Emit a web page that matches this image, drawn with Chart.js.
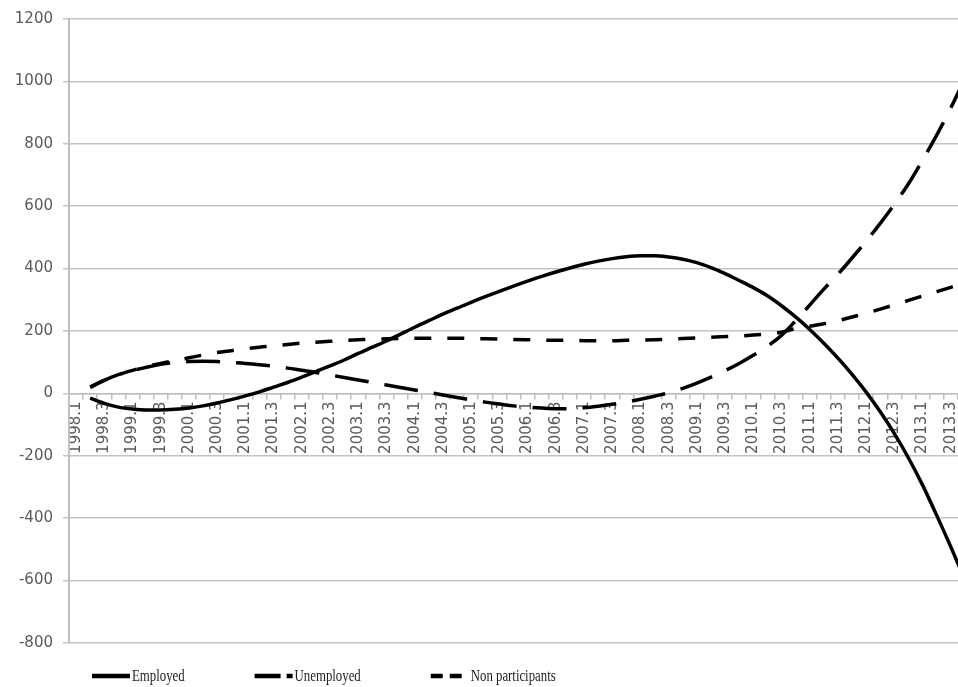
<!DOCTYPE html>
<html><head><meta charset="utf-8">
<script src="https://cdn.jsdelivr.net/npm/chart.js@4/dist/chart.umd.min.js"></script>
<style>
html,body{margin:0;padding:0;background:#fff;overflow:hidden;width:958px;height:687px}
#wrap{position:relative;width:986px;height:687px}
canvas{display:block}
</style></head><body>
<div id="wrap"><canvas id="c" width="986" height="687"></canvas></div>
<script>
const categories = [
 "1998.1","1998.2","1998.3","1998.4","1999.1","1999.2","1999.3","1999.4",
 "2000.1","2000.2","2000.3","2000.4","2001.1","2001.2","2001.3","2001.4",
 "2002.1","2002.2","2002.3","2002.4","2003.1","2003.2","2003.3","2003.4",
 "2004.1","2004.2","2004.3","2004.4","2005.1","2005.2","2005.3","2005.4",
 "2006.1","2006.2","2006.3","2006.4","2007.1","2007.2","2007.3","2007.4",
 "2008.1","2008.2","2008.3","2008.4","2009.1","2009.2","2009.3","2009.4",
 "2010.1","2010.2","2010.3","2010.4","2011.1","2011.2","2011.3","2011.4",
 "2012.1","2012.2","2012.3","2012.4","2013.1","2013.2","2013.3","2013.4"];

const employed = [null,
 -15,-32,-44,-50,-53,-53,-51,-47,-40,-31,-20,-8,5,20,35,52,70,88,107,128,148,168,190,212,233,254,273,292,310,327,344,
 360,375,389,402,414,424,432,438,441,441,437,430,419,403,384,362,339,313,281,245,205,161,113,61,4,-59,-129,-207,-294,-391,-492,-598];

const unemployed = [null,
 20,42,60,73,84,93,99,102,103,102,99,96,92,87,81,74,67,59,51,43,35,27,19,11,3,-5,-13,-21,-28,-34,-40,
 -44,-47,-49,-49,-46,-41,-35,-28,-19,-9,2,16,33,52,73,96,122,151,186,233,283,334,382,434,488,545,606,672,748,828,915,1010];

const nonParticipants = [null,
 20,42,60,74,86,96,105,114,123,131,137,143,148,152,157,161,164,167,170,172,174,175,176,177,177,177,177,176,175,174,173,
 172,171,170,170,169,169,169,170,171,172,174,176,178,180,182,184,187,191,196,208,215,223,233,245,257,270,284,298,312,326,340,354];

const seriesNames = ["Employed", "Unemployed", "Non participants"];
const yMin = -800, yMax = 1200, yStep = 200;

const legendPlugin = {
  id: 'customLegend',
  afterDraw(chart) {
    const ctx = chart.ctx;
    const y = 676;
    let x = 92;
    ctx.save();
    ctx.font = '16px "Liberation Serif", "Times New Roman", serif';
    ctx.textBaseline = 'middle';
    ctx.fillStyle = '#1e1e1e';
    chart.data.datasets.forEach(ds => {
      ctx.save();
      ctx.strokeStyle = '#000';
      ctx.lineWidth = 4.5;
      ctx.lineCap = 'butt';
      ctx.setLineDash(ds.legendDash);
      ctx.beginPath(); ctx.moveTo(x, y); ctx.lineTo(x + 38, y); ctx.stroke();
      ctx.restore();
      const tx = x + 40;
      ctx.save(); ctx.translate(tx, y + 1); ctx.scale(0.8, 1); ctx.fillText(ds.label, 0, 0); ctx.restore();
      const w = ctx.measureText(ds.label).width * 0.8;
      x = tx + w + 70;
    });
    ctx.restore();
  }
};

new Chart(document.getElementById('c'), {
  type: 'line',
  data: {
    labels: categories,
    datasets: [
      { label: seriesNames[0], data: employed, borderColor: '#000', borderWidth: 3.5, borderDash: [], legendDash: [], pointRadius: 0, cubicInterpolationMode: 'monotone', fill: false },
      { label: seriesNames[1], data: unemployed, borderColor: '#000', borderWidth: 3.5, borderDash: [34, 16], legendDash: [26, 6, 6, 6], pointRadius: 0, cubicInterpolationMode: 'monotone', fill: false },
      { label: seriesNames[2], data: nonParticipants, borderColor: '#000', borderWidth: 3.5, borderDash: [17, 16], legendDash: [12, 7], pointRadius: 0, cubicInterpolationMode: 'monotone', fill: false }
    ]
  },
  options: {
    responsive: false,
    animation: false,
    devicePixelRatio: 1,
    layout: { padding: { left: 0, right: 10, top: 17, bottom: 44 } },
    plugins: { legend: { display: false }, tooltip: { enabled: false } },
    scales: {
      x: {
        type: 'category',
        position: { y: 0 },
        offset: true,
        grid: { drawOnChartArea: false, drawTicks: true, tickLength: 5, offset: true, color: '#bdbdbd', lineWidth: 1.5 },
        border: { display: true, color: '#c0c0c0', width: 1.5 },
        ticks: {
          autoSkip: false, minRotation: 90, maxRotation: 90, padding: 3,
          color: '#595959', font: { family: '"DejaVu Sans", sans-serif', size: 15 },
          callback: function(v, i) { return i % 2 === 0 ? this.getLabelForValue(v) : ''; }
        }
      },
      y: {
        min: yMin, max: yMax,
        afterFit(scale) { scale.width = 69; },
        grid: { color: '#c4c4c4', lineWidth: 1.5, tickLength: 6 },
        border: { display: true, color: '#c0c0c0', width: 2 },
        ticks: { stepSize: yStep, padding: 10, color: '#595959', font: { family: '"DejaVu Sans", sans-serif', size: 15 },
          callback: v => String(v) }
      }
    }
  },
  plugins: [legendPlugin]
});
</script>
</body></html>
